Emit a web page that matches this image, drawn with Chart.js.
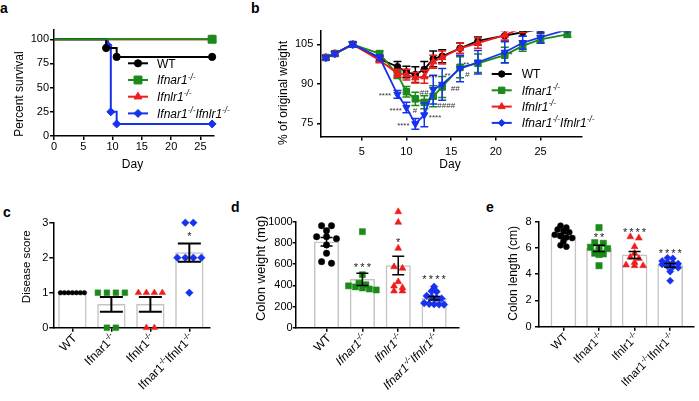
<!DOCTYPE html>
<html>
<head>
<meta charset="utf-8">
<script src="https://cdn.jsdelivr.net/npm/chart.js@4.4.1/dist/chart.umd.min.js"></script>
<style>
  html, body { margin: 0; padding: 0; background: #fff; }
  body { position: relative; width: 699px; height: 401px; overflow: hidden; font-family: "Liberation Sans", Arial, sans-serif; }
  canvas { position: absolute; }
  .tag { position: absolute; font-weight: bold; font-size: 14px; line-height: 14px; color: #000; }
</style>
</head>
<body>
<div class="tag" style="left:0px;top:1px">a</div>
<div class="tag" style="left:251px;top:1px">b</div>
<div class="tag" style="left:3px;top:205px">c</div>
<div class="tag" style="left:231px;top:200px">d</div>
<div class="tag" style="left:486px;top:200px">e</div>

<canvas id="ca" width="235" height="200" style="left:0px;top:0px;width:235px;height:200px"></canvas>
<canvas id="cb" width="385" height="200" style="left:235px;top:0px;width:385px;height:200px"></canvas>
<canvas id="cc" width="232" height="201" style="left:0px;top:200px;width:232px;height:201px"></canvas>
<canvas id="cd" width="232" height="201" style="left:232px;top:200px;width:232px;height:201px"></canvas>
<canvas id="ce" width="235" height="201" style="left:464px;top:200px;width:235px;height:201px"></canvas>

<script>
// ---- data ----
const groupNames = ['WT', 'Ifnar1', 'Ifnlr1', 'Ifnar1 Ifnlr1'];

// a: percent survival (step points)
const survWTDay = [0, 8.9, 10.7, 27];
const survWT = [100, 90.9, 81.8, 81.8];
const survIfnar1Day = [0, 27];
const survIfnar1 = [100, 100];
const survIfnlr1Day = [0, 27];
const survIfnlr1 = [100, 100];
const survDKODay = [0, 9.2, 9.7, 10.7, 27];
const survDKO = [100, 93.75, 25, 12.5, 12.5];
const survXTicks = [0, 5, 10, 15, 20, 25];
const survYTicks = [0, 25, 50, 75, 100];

// b: % of original weight, mean and SEM
const weightDays = [1, 2, 4, 7, 9, 10, 11, 12, 13, 14, 16, 18, 21, 23, 25, 28];
const weightWT = [100, 101.5, 105, 99.5, 96.5, 94.5, 93.5, 95.5, 99.5, 100.5, 103.5, 106.3, 108.3, 109.6, 110.8, null];
const weightWTsem = [0.8, 0.8, 1, 1, 2, 2.2, 3, 3, 3, 2.5, 2, 1.5, 2, 1.5, 1.5, 0];
const weightIfnar1 = [100, 101.5, 105, 101.5, 93.5, 87, 84.3, 83, 85.3, 88.8, 96.3, 97.8, 100.9, 104.4, 106.9, 108.8];
const weightIfnar1sem = [0.8, 0.8, 1, 1, 1.5, 2, 2.5, 2.5, 4, 4, 4, 3.5, 3, 2, 1.5, 1];
const weightIfnlr1 = [100, 101.5, 105, 99, 94, 93.5, 92.3, 92.7, 98.4, 100, 103.5, 105.5, 108.5, 111.4, null, null];
const weightIfnlr1sem = [0.8, 0.8, 1, 1, 1.5, 2, 2, 2.5, 2.5, 2.5, 2, 2, 1.8, 2, 0, 0];
const weightDKO = [100, 101.5, 105, 100, 86, 81, 74.8, 78.2, 87.8, 89.8, 95.8, 98.2, 102, 105.6, 107.7, 110.6];
const weightDKOsem = [0.8, 0.8, 1, 1, 1.5, 2, 2, 4.5, 5.5, 6, 5, 4.5, 4, 2.5, 2.2, 0];
const weightXTicks = [5, 10, 15, 20, 25];
const weightYTicks = [75, 90, 105];
const weightMarkText = ['****', '****', '****', '#', '##', '****', '***', '**', '##', '####', '**', '#', '*'];
const weightMarkDay = [7.6, 8.8, 9.66, 10.97, 12.0, 13.2, 12.93, 14.6, 15.45, 14.45, 16.7, 16.8, 21.7];
const weightMarkLevel = [86.0, 80.4, 74.6, 80.4, 87.4, 77.8, 92.9, 93.7, 88.8, 82.5, 97.8, 94.0, 101.6];

// c: disease score
const scoreWT = [1, 1, 1, 1, 1, 1, 1];
const scoreIfnar1 = [1, 1, 1, 1, 0, 0];
const scoreIfnlr1 = [1, 1, 1, 1, 0, 0];
const scoreDKO = [3, 3, 2, 2, 2, 2, 1];
const scoreStars = ['', '', '', '*'];
const scoreStarLevel = [0, 0, 0, 2.7];
const scoreTicks = [0, 1, 2, 3];

// d: colon weight (mg)
const colonWeightWT = [962, 962, 915, 858, 858, 840, 780, 702, 623, 608];
const colonWeightIfnar1 = [906, 500, 420, 405, 395, 385, 375, 365, 356];
const colonWeightIfnlr1 = [1094, 994, 749, 575, 560, 434, 393, 377, 346, 346];
const colonWeightDKO = [387, 345, 340, 300, 290, 280, 275, 232, 225, 222, 220, 218];
const colonWeightStars = ['', '***', '*', '****'];
const colonWeightStarLevel = [0, 598, 834, 481];
const colonWeightTicks = [0, 200, 400, 600, 800, 1000];

// e: colon length (cm)
const colonLengthWT = [7.7, 7.55, 7.4, 7.3, 7.2, 7.0, 6.9, 6.8, 6.75, 6.5, 6.2, 6.1];
const colonLengthIfnar1 = [7.55, 6.4, 6.35, 6.05, 6.0, 5.95, 5.6, 5.55, 5.5, 4.65];
const colonLengthIfnlr1 = [6.85, 6.75, 6.1, 5.6, 5.3, 5.2, 4.9, 4.7, 4.65, 4.65];
const colonLengthDKO = [5.25, 5.2, 5.0, 4.9, 4.85, 4.8, 4.75, 4.6, 4.55, 4.5, 4.2, 3.5];
const colonLengthStars = ['', '**', '****', '****'];
const colonLengthStarLevel = [0, 6.99, 7.37, 5.77];
const colonLengthTicks = [0, 2, 4, 6, 8];

// ---- styles ----
const FONT = '"Liberation Sans", Arial, sans-serif';
const BLACK = '#000000', GREEN = '#1b8a1b', RED = '#f01c1c', BLUE = '#1632ee';
const groupColors = [BLACK, GREEN, RED, BLUE];
const groupShapes = ['circle', 'rect', 'triangle', 'rectRot'];

function font(size, italic) { return (italic ? 'italic ' : '') + size + 'px ' + FONT; }
function mean(a) { return a.reduce((s, v) => s + v, 0) / a.length; }
function sem(a) {
  const m = mean(a);
  const sd = Math.sqrt(a.reduce((s, v) => s + (v - m) * (v - m), 0) / (a.length - 1));
  return sd / Math.sqrt(a.length);
}

// genotype name -> text pieces, "-/-" raised
function segsFor(name) {
  if (name === 'WT') return [['WT', false]];
  const out = [];
  name.split(' ').forEach(g => { out.push([g, false]); out.push(['-/-', true]); });
  return out;
}
function richWidth(ctx, segs, size, italic) {
  let w = 0;
  segs.forEach(([t, sup]) => { ctx.font = font(sup ? size * 0.68 : size, italic); w += ctx.measureText(t).width; });
  return w;
}
function drawRich(ctx, segs, x, y, size, italic, alignRight) {
  let cx = alignRight ? x - richWidth(ctx, segs, size, italic) : x;
  ctx.textAlign = 'left';
  ctx.textBaseline = 'alphabetic';
  segs.forEach(([t, sup]) => {
    ctx.font = font(sup ? size * 0.68 : size, italic);
    ctx.fillText(t, cx, sup ? y - size * 0.4 : y);
    cx += ctx.measureText(t).width;
  });
}

// spread points with nearly equal values sideways, GraphPad style
function swarm(values, pxPerUnit, pxPerCat, gap, rowH) {
  const rows = {};
  values.forEach((v, i) => {
    const r = Math.round(v * pxPerUnit / rowH);
    (rows[r] = rows[r] || []).push(i);
  });
  const off = values.map(() => 0);
  Object.values(rows).forEach(idx => {
    idx.forEach((i, k) => { off[i] = (k - (idx.length - 1) / 2) * gap / pxPerCat; });
  });
  return off;
}

function axisY(min, max, ticks, width, tickLen, pad) {
  return {
    type: 'linear', position: 'left', min: min, max: max,
    afterBuildTicks: s => { s.ticks = ticks.map(v => ({ value: v })); },
    afterFit: s => { s.width = width; },
    border: { display: true, color: '#000', width: 1.5 },
    grid: { display: true, drawOnChartArea: false, drawTicks: true, tickLength: tickLen, color: '#000', lineWidth: 1.5 },
    ticks: { color: '#000', padding: pad, font: { family: FONT, size: 11 }, callback: v => String(v) }
  };
}
function axisX(min, max, ticks, height, pad, showLabels) {
  return {
    type: 'linear', position: 'bottom', min: min, max: max, offset: false,
    afterBuildTicks: s => { s.ticks = ticks.map(v => ({ value: v })); },
    afterFit: s => { s.height = height; },
    border: { display: true, color: '#000', width: 1.5 },
    grid: { display: true, offset: false, drawOnChartArea: false, drawTicks: true, tickLength: 4, color: '#000', lineWidth: 1.5 },
    ticks: { display: showLabels, color: '#000', padding: pad, maxRotation: 0, font: { family: FONT, size: 11 }, callback: v => String(v) }
  };
}

function drawLegend(ctx, L) {
  L.items.forEach((it, k) => {
    const y = L.y + k * L.dy;
    ctx.strokeStyle = it.color;
    ctx.fillStyle = it.color;
    ctx.lineWidth = 2;
    ctx.beginPath(); ctx.moveTo(L.x0, y); ctx.lineTo(L.x1, y); ctx.stroke();
    ctx.lineWidth = 1;
    Chart.helpers.drawPoint(ctx, { pointStyle: it.shape, radius: it.r, rotation: 0, borderWidth: 1 }, (L.x0 + L.x1) / 2, y);
    ctx.fillStyle = '#000';
    drawRich(ctx, segsFor(it.name), L.tx, y + L.size * 0.36, L.size, it.name !== 'WT', false);
  });
}

function decoPlugin(box, s) {
  const lx = x => x - box.left, ly = y => y - box.top;
  let savedArea = null;
  return {
    id: 'deco',
    beforeDatasetsDraw(chart) {
      // let dots that sit above the axis top (e.g. > 1000 mg) still be drawn
      if (s.expandTop) {
        savedArea = chart.chartArea;
        chart.chartArea = Object.assign({}, savedArea, { top: savedArea.top - s.expandTop, height: savedArea.height + s.expandTop });
      }
    },
    beforeDatasetDraw(chart, args) {
      if (!s.lineErrors) return;
      const ser = s.lineErrors.series[args.index];
      const ctx = chart.ctx, xs = chart.scales.x, ys = chart.scales.y, a = chart.chartArea;
      ctx.save();
      ctx.beginPath(); ctx.rect(a.left - 10, a.top, a.width + 20, a.height + 10); ctx.clip();
      ctx.strokeStyle = ser.color; ctx.lineWidth = 1.5;
      ser.y.forEach((v, i) => {
        if (v == null || !ser.err[i]) return;
        const x = xs.getPixelForValue(s.lineErrors.days[i]);
        const hi = ys.getPixelForValue(v + ser.err[i]), lo = ys.getPixelForValue(v - ser.err[i]);
        const c = s.lineErrors.cap / 2;
        ctx.beginPath();
        ctx.moveTo(x, hi); ctx.lineTo(x, lo);
        ctx.moveTo(x - c, hi); ctx.lineTo(x + c, hi);
        ctx.moveTo(x - c, lo); ctx.lineTo(x + c, lo);
        ctx.stroke();
      });
      ctx.restore();
    },
    afterDatasetsDraw(chart) {
      if (savedArea) { chart.chartArea = savedArea; savedArea = null; }
      const ctx = chart.ctx, xs = chart.scales.x, ys = chart.scales.y, a = chart.chartArea;
      ctx.save();
      if (s.barErrors) {
        const E = s.barErrors;
        ctx.strokeStyle = '#000'; ctx.lineWidth = E.lw;
        E.groups.forEach((vals, i) => {
          const m = mean(vals), e = sem(vals), x = xs.getPixelForValue(i);
          if (e === 0) return;
          const hi = ys.getPixelForValue(m + e), lo = ys.getPixelForValue(m - e);
          ctx.beginPath();
          ctx.moveTo(x, hi); ctx.lineTo(x, lo);
          ctx.moveTo(x - E.cap / 2, hi); ctx.lineTo(x + E.cap / 2, hi);
          ctx.moveTo(x - E.cap / 2, lo); ctx.lineTo(x + E.cap / 2, lo);
          ctx.stroke();
        });
      }
      if (s.stars) {
        const S = s.stars;
        ctx.font = font(S.size); ctx.textAlign = 'center'; ctx.textBaseline = 'alphabetic'; ctx.fillStyle = '#222';
        S.text.forEach((t, i) => {
          if (!t) return;
          const cx = xs.getPixelForValue(i), cy = ys.getPixelForValue(S.level[i]) + S.size * 0.58;
          for (let k = 0; k < t.length; k++) ctx.fillText(t[k], cx + (k - (t.length - 1) / 2) * S.gap, cy);
        });
      }
      if (s.marks) {
        const M = s.marks;
        ctx.font = font(M.size); ctx.textAlign = 'center'; ctx.textBaseline = 'alphabetic'; ctx.fillStyle = '#333';
        M.text.forEach((t, i) => ctx.fillText(t, xs.getPixelForValue(M.day[i]), ys.getPixelForValue(M.level[i]) + M.size * 0.5));
      }
      if (s.catLabels) {
        const C = s.catLabels;
        groupNames.forEach((n, i) => {
          ctx.save();
          ctx.translate(xs.getPixelForValue(i) + C.dx, a.bottom + C.dy);
          ctx.rotate(-Math.PI / 4);
          ctx.fillStyle = '#000';
          drawRich(ctx, segsFor(n), 0, C.size * 0.36, C.size, C.italic && n !== 'WT', true);
          ctx.restore();
        });
      }
      if (s.legend) {
        const L = Object.assign({}, s.legend, { x0: lx(s.legend.x0), x1: lx(s.legend.x1), tx: lx(s.legend.tx), y: ly(s.legend.y) });
        drawLegend(ctx, L);
      }
      ctx.fillStyle = '#000';
      ctx.textAlign = 'center'; ctx.textBaseline = 'middle';
      if (s.yTitle) {
        ctx.save();
        ctx.translate(lx(s.yTitle.x), ly(s.yTitle.y));
        ctx.rotate(-Math.PI / 2);
        ctx.font = font(s.yTitle.size);
        ctx.fillText(s.yTitle.text, 0, 0);
        ctx.restore();
      }
      if (s.xTitle) {
        ctx.font = font(s.xTitle.size);
        ctx.fillText(s.xTitle.text, lx(s.xTitle.x), ly(s.xTitle.y));
      }
      ctx.restore();
    }
  };
}

const common = {
  responsive: false, animation: false, events: [],
  plugins: { legend: { display: false }, tooltip: { enabled: false } }
};

// ---- a: survival ----
const boxA = { left: 0, top: 0 };
const survSeries = [
  { name: 'WT', day: survWTDay, y: survWT, color: BLACK, shape: 'circle', r: 3.6, order: 2 },
  { name: 'Ifnar1', day: survIfnar1Day, y: survIfnar1, color: GREEN, shape: 'rect', r: 5.6, order: 1 },
  { name: 'Ifnlr1', day: survIfnlr1Day, y: survIfnlr1, color: RED, shape: 'triangle', r: 4.5, order: 3 },
  { name: 'Ifnar1 Ifnlr1', day: survDKODay, y: survDKO, color: BLUE, shape: 'rectRot', r: 4, order: 4 }
];
new Chart(document.getElementById('ca'), {
  type: 'line',
  data: {
    datasets: survSeries.map(s => ({
      data: s.day.map((d, i) => ({ x: d, y: s.y[i] })),
      stepped: true, borderColor: s.color, backgroundColor: s.color, borderWidth: 2,
      pointStyle: s.shape, pointRadius: s.day.map((d, i) => i === 0 ? 0 : s.r), pointBorderWidth: 1,
      order: s.order, clip: false
    }))
  },
  options: Object.assign({}, common, {
    layout: { padding: { left: 0, top: 29.6, right: 21.7, bottom: 42 } },
    scales: { x: axisX(0, 27.2, survXTicks, 22, 0, true), y: axisY(0, 110, survYTicks, 54, 4, 1) }
  }),
  plugins: [decoPlugin(boxA, {
    yTitle: { text: 'Percent survival', x: 20, y: 94, size: 12 },
    xTitle: { text: 'Day', x: 132.5, y: 164.3, size: 12 },
    legend: { x0: 128, x1: 148, tx: 157, y: 63.3, dy: 16.7, size: 12, items: survSeries }
  })]
});

// ---- b: weight ----
const boxB = { left: 235, top: 0 };
const weightSeries = [
  { name: 'WT', y: weightWT, err: weightWTsem, color: BLACK, shape: 'circle', r: 3.3, rot: 0 },
  { name: 'Ifnar1', y: weightIfnar1, err: weightIfnar1sem, color: GREEN, shape: 'rect', r: 4.6, rot: 0 },
  { name: 'Ifnlr1', y: weightIfnlr1, err: weightIfnlr1sem, color: RED, shape: 'triangle', r: 4.2, rot: 0 },
  { name: 'Ifnar1 Ifnlr1', y: weightDKO, err: weightDKOsem, color: BLUE, shape: 'triangle', r: 4.2, rot: 180 }
];
new Chart(document.getElementById('cb'), {
  type: 'line',
  data: {
    datasets: weightSeries.map((s, k) => ({
      data: weightDays.map((d, i) => ({ x: d, y: s.y[i] })),
      borderColor: s.color, backgroundColor: s.color, borderWidth: 1.8,
      pointStyle: s.shape, pointRadius: s.r, pointRotation: s.rot, pointBorderWidth: 1,
      order: 4 - k, clip: { left: 10, top: 0, right: 10, bottom: 10 }
    }))
  },
  options: Object.assign({}, common, {
    layout: { padding: { left: 0, top: 31.2, right: 38.3, bottom: 41.5 } },
    scales: { x: axisX(0.45, 29.6, weightXTicks, 22, 4.5, true), y: axisY(70, 110, weightYTicks, 86, 4, 3.7) }
  }),
  plugins: [decoPlugin(boxB, {
    lineErrors: { days: weightDays, series: weightSeries, cap: 8 },
    marks: { text: weightMarkText, day: weightMarkDay, level: weightMarkLevel, size: 8 },
    yTitle: { text: '% of original weight', x: 283.3, y: 93, size: 12 },
    xTitle: { text: 'Day', x: 450, y: 164.3, size: 12 },
    legend: {
      x0: 491.7, x1: 511.7, tx: 521.7, y: 74, dy: 16.3, size: 12,
      items: [
        { name: 'WT', color: BLACK, shape: 'circle', r: 3.2 },
        { name: 'Ifnar1', color: GREEN, shape: 'rect', r: 4.5 },
        { name: 'Ifnlr1', color: RED, shape: 'triangle', r: 4 },
        { name: 'Ifnar1 Ifnlr1', color: BLUE, shape: 'rectRot', r: 3.5 }
      ]
    }
  })]
});

// ---- c, d, e: bar + dot plots ----
function dotPanel(id, box, g) {
  const datasets = [{
    type: 'bar',
    data: g.groups.map((vals, i) => ({ x: i, y: mean(vals) })),
    backgroundColor: '#ffffff', borderColor: '#c4c4c4', borderWidth: 1.5,
    barThickness: g.barW, order: 10
  }];
  g.groups.forEach((vals, i) => {
    const off = swarm(vals, g.pxPerUnit, g.pxPerCat, g.gaps[i], g.rowH);
    datasets.push({
      type: 'scatter',
      data: vals.map((v, k) => ({ x: i + off[k], y: v })),
      pointStyle: groupShapes[i], pointRadius: g.radii[i],
      backgroundColor: groupColors[i], borderColor: groupColors[i], pointBorderWidth: 0.5,
      clip: false, order: 4 - i
    });
  });
  new Chart(document.getElementById(id), {
    type: 'bar',
    data: { datasets: datasets },
    options: Object.assign({}, common, {
      layout: { padding: g.pad },
      scales: {
        x: axisX(g.xmin, g.xmax, [0, 1, 2, 3], 10, 0, false),
        y: axisY(g.ymin, g.ymax, g.yticks, g.yWidth, g.tickLen, g.tickPad)
      }
    }),
    plugins: [decoPlugin(box, {
      expandTop: 20,
      barErrors: { groups: g.groups, cap: g.cap, lw: g.errLw },
      stars: { text: g.stars, level: g.starLevel, size: 11, gap: g.starGap },
      catLabels: { dx: 2, dy: 8, size: g.labelSize, italic: g.italic },
      yTitle: g.yTitle
    })]
  });
}

dotPanel('cc', { left: 0, top: 200 }, {
  groups: [scoreWT, scoreIfnar1, scoreIfnlr1, scoreDKO],
  pxPerUnit: 35, pxPerCat: 39, gaps: [4, 9, 8, 8], rowH: 4, radii: [2.3, 4, 3.8, 3.8],
  xmin: -0.49, xmax: 3.53, ymin: 0, ymax: 3, yticks: scoreTicks,
  yWidth: 53.3, tickLen: 4, tickPad: 1,
  pad: { left: 0, top: 22.7, right: 22, bottom: 63.3 },
  barW: 27.7, cap: 23, errLw: 2,
  stars: scoreStars, starLevel: scoreStarLevel, starGap: 6.4,
  labelSize: 12, italic: false,
  yTitle: { text: 'Disease score', x: 26.7, y: 266.7, size: 11.5 }
});

dotPanel('cd', { left: 232, top: 200 }, {
  groups: [colonWeightWT, colonWeightIfnar1, colonWeightIfnlr1, colonWeightDKO],
  pxPerUnit: 0.106, pxPerCat: 36.2, gaps: [10, 7, 8.5, 5], rowH: 5, radii: [3.2, 4.3, 4, 3.8],
  xmin: -0.86, xmax: 3.70, ymin: 0, ymax: 1000, yticks: colonWeightTicks,
  yWidth: 63.7, tickLen: 3, tickPad: 0,
  pad: { left: 0, top: 21.7, right: 4, bottom: 63.3 },
  barW: 24.5, cap: 12, errLw: 1.5,
  stars: colonWeightStars, starLevel: colonWeightStarLevel, starGap: 6.4,
  labelSize: 12, italic: true,
  yTitle: { text: 'Colon weight (mg)', x: 261.7, y: 268.3, size: 13 }
});

dotPanel('ce', { left: 464, top: 200 }, {
  groups: [colonLengthWT, colonLengthIfnar1, colonLengthIfnlr1, colonLengthDKO],
  pxPerUnit: 13.125, pxPerCat: 36.7, gaps: [6, 8.8, 8.8, 5.5], rowH: 5, radii: [3, 4.5, 4, 3.6],
  xmin: -0.687, xmax: 3.67, ymin: 0, ymax: 8, yticks: colonLengthTicks,
  yWidth: 75, tickLen: 4, tickPad: 3.3,
  pad: { left: 0, top: 21.7, right: 0, bottom: 64.3 },
  barW: 25, cap: 12, errLw: 1.5,
  stars: colonLengthStars, starLevel: colonLengthStarLevel, starGap: 6.25,
  labelSize: 11.5, italic: false,
  yTitle: { text: 'Colon length (cm)', x: 513.3, y: 273.3, size: 12 }
});
</script>
</body>
</html>
